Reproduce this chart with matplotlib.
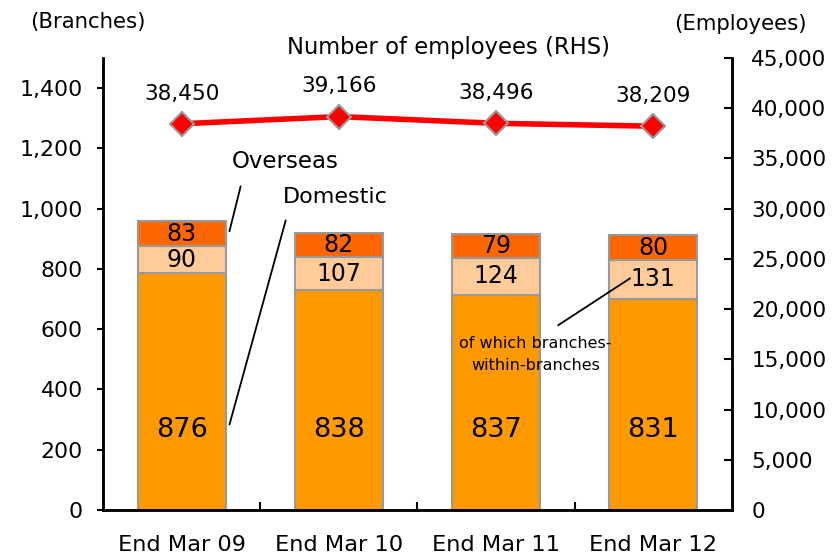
import matplotlib
matplotlib.use("Agg")
from matplotlib import pyplot as plt
import numpy as np

categories = ["End Mar 09", "End Mar 10", "End Mar 11", "End Mar 12"]
domestic = [876, 838, 837, 831]
within_branches = [90, 107, 124, 131]
overseas = [83, 82, 79, 80]
employees = [38450, 39166, 38496, 38209]

plt.rcParams['font.family'] = ['DejaVu Sans']

fig = plt.figure(figsize=(8.34, 5.57), dpi=100)
ax = fig.add_axes([0.1235, 0.0844, 0.754, 0.8115])
ax2 = ax.twinx()

x = np.arange(len(categories))
dom = np.array(domestic)
wb = np.array(within_branches)
ov = np.array(overseas)
base = dom - wb

w = 0.56
edge = dict(edgecolor="#999999", linewidth=1.5)
ax.bar(x, base, w, color="#FF9900", **edge)
ax.bar(x, wb, w, bottom=base, color="#FFCC99", **edge)
ax.bar(x, ov, w, bottom=dom, color="#FF6600", **edge)

for i in range(len(x)):
    ax.text(x[i], 265, f"{dom[i]}", ha="center", va="center", fontsize=19.5)
    ax.text(x[i], base[i] + wb[i] / 2, f"{wb[i]}", ha="center", va="center", fontsize=17)
    ax.text(x[i], dom[i] + ov[i] / 2, f"{ov[i]}", ha="center", va="center", fontsize=17)

ax.set_xlim(-0.5, 3.5)
ax.set_ylim(0, 1500)
ax.set_yticks(range(0, 1401, 200))
ax.set_yticklabels([f"{v:,}" for v in range(0, 1401, 200)], fontsize=15.8)
ax.set_xticks(x)
ax.set_xticklabels(categories, fontsize=16.2)
ax.set_xticks([0.5, 1.5, 2.5], minor=True)
ax.tick_params(axis="x", which="major", length=0, pad=18)
ax.tick_params(axis="x", which="minor", direction="in", length=6, width=1.5)
ax.tick_params(axis="y", direction="out", length=4.5, width=1.5, pad=10)

for a in (ax, ax2):
    a.spines["top"].set_visible(False)
    for s in ("left", "right", "bottom"):
        a.spines[s].set_linewidth(1.8)

ax2.plot(x, employees, color="#FF0000", linewidth=4, marker="D", markersize=12,
         markerfacecolor="#FF0000", markeredgecolor="#999999", markeredgewidth=1.5,
         zorder=5)
for i in range(len(x)):
    ax2.text(x[i], employees[i] + 2000, f"{employees[i]:,}", ha="center",
             va="bottom", fontsize=15.6)
ax2.set_ylim(0, 45000)
ax2.set_yticks(range(0, 45001, 5000))
ax2.set_yticklabels([f"{v:,}" for v in range(0, 45001, 5000)], fontsize=15.5)
ax2.tick_params(axis="y", direction="in", length=6, width=1.5, pad=14)

# leader lines and notes
line = dict(arrowstyle="-", color="black", linewidth=1.3)
ax.annotate("", xy=(0.30, 916), xytext=(0.38, 1083), arrowprops=line)
ax.text(0.66, 1155, "Overseas", ha="center", va="center", fontsize=16.5)
ax.annotate("", xy=(0.30, 275), xytext=(0.667, 970), arrowprops=line)
ax.text(0.975, 1039, "Domestic", ha="center", va="center", fontsize=16)
ax.annotate("", xy=(2.868, 774), xytext=(2.38, 608), arrowprops=line)
ax.text(2.25, 554, "of which branches-", ha="center", va="center", fontsize=11.5)
ax.text(2.25, 478, "within-branches", ha="center", va="center", fontsize=11.5)

fig.text(0.538, 0.914, "Number of employees (RHS)", ha="center", va="center", fontsize=16.3)
fig.text(0.1055, 0.960, "(Branches)", ha="center", va="center", fontsize=15.3)
fig.text(0.888, 0.957, "(Employees)", ha="center", va="center", fontsize=15.3)

fig.savefig("out.png", dpi=100)
